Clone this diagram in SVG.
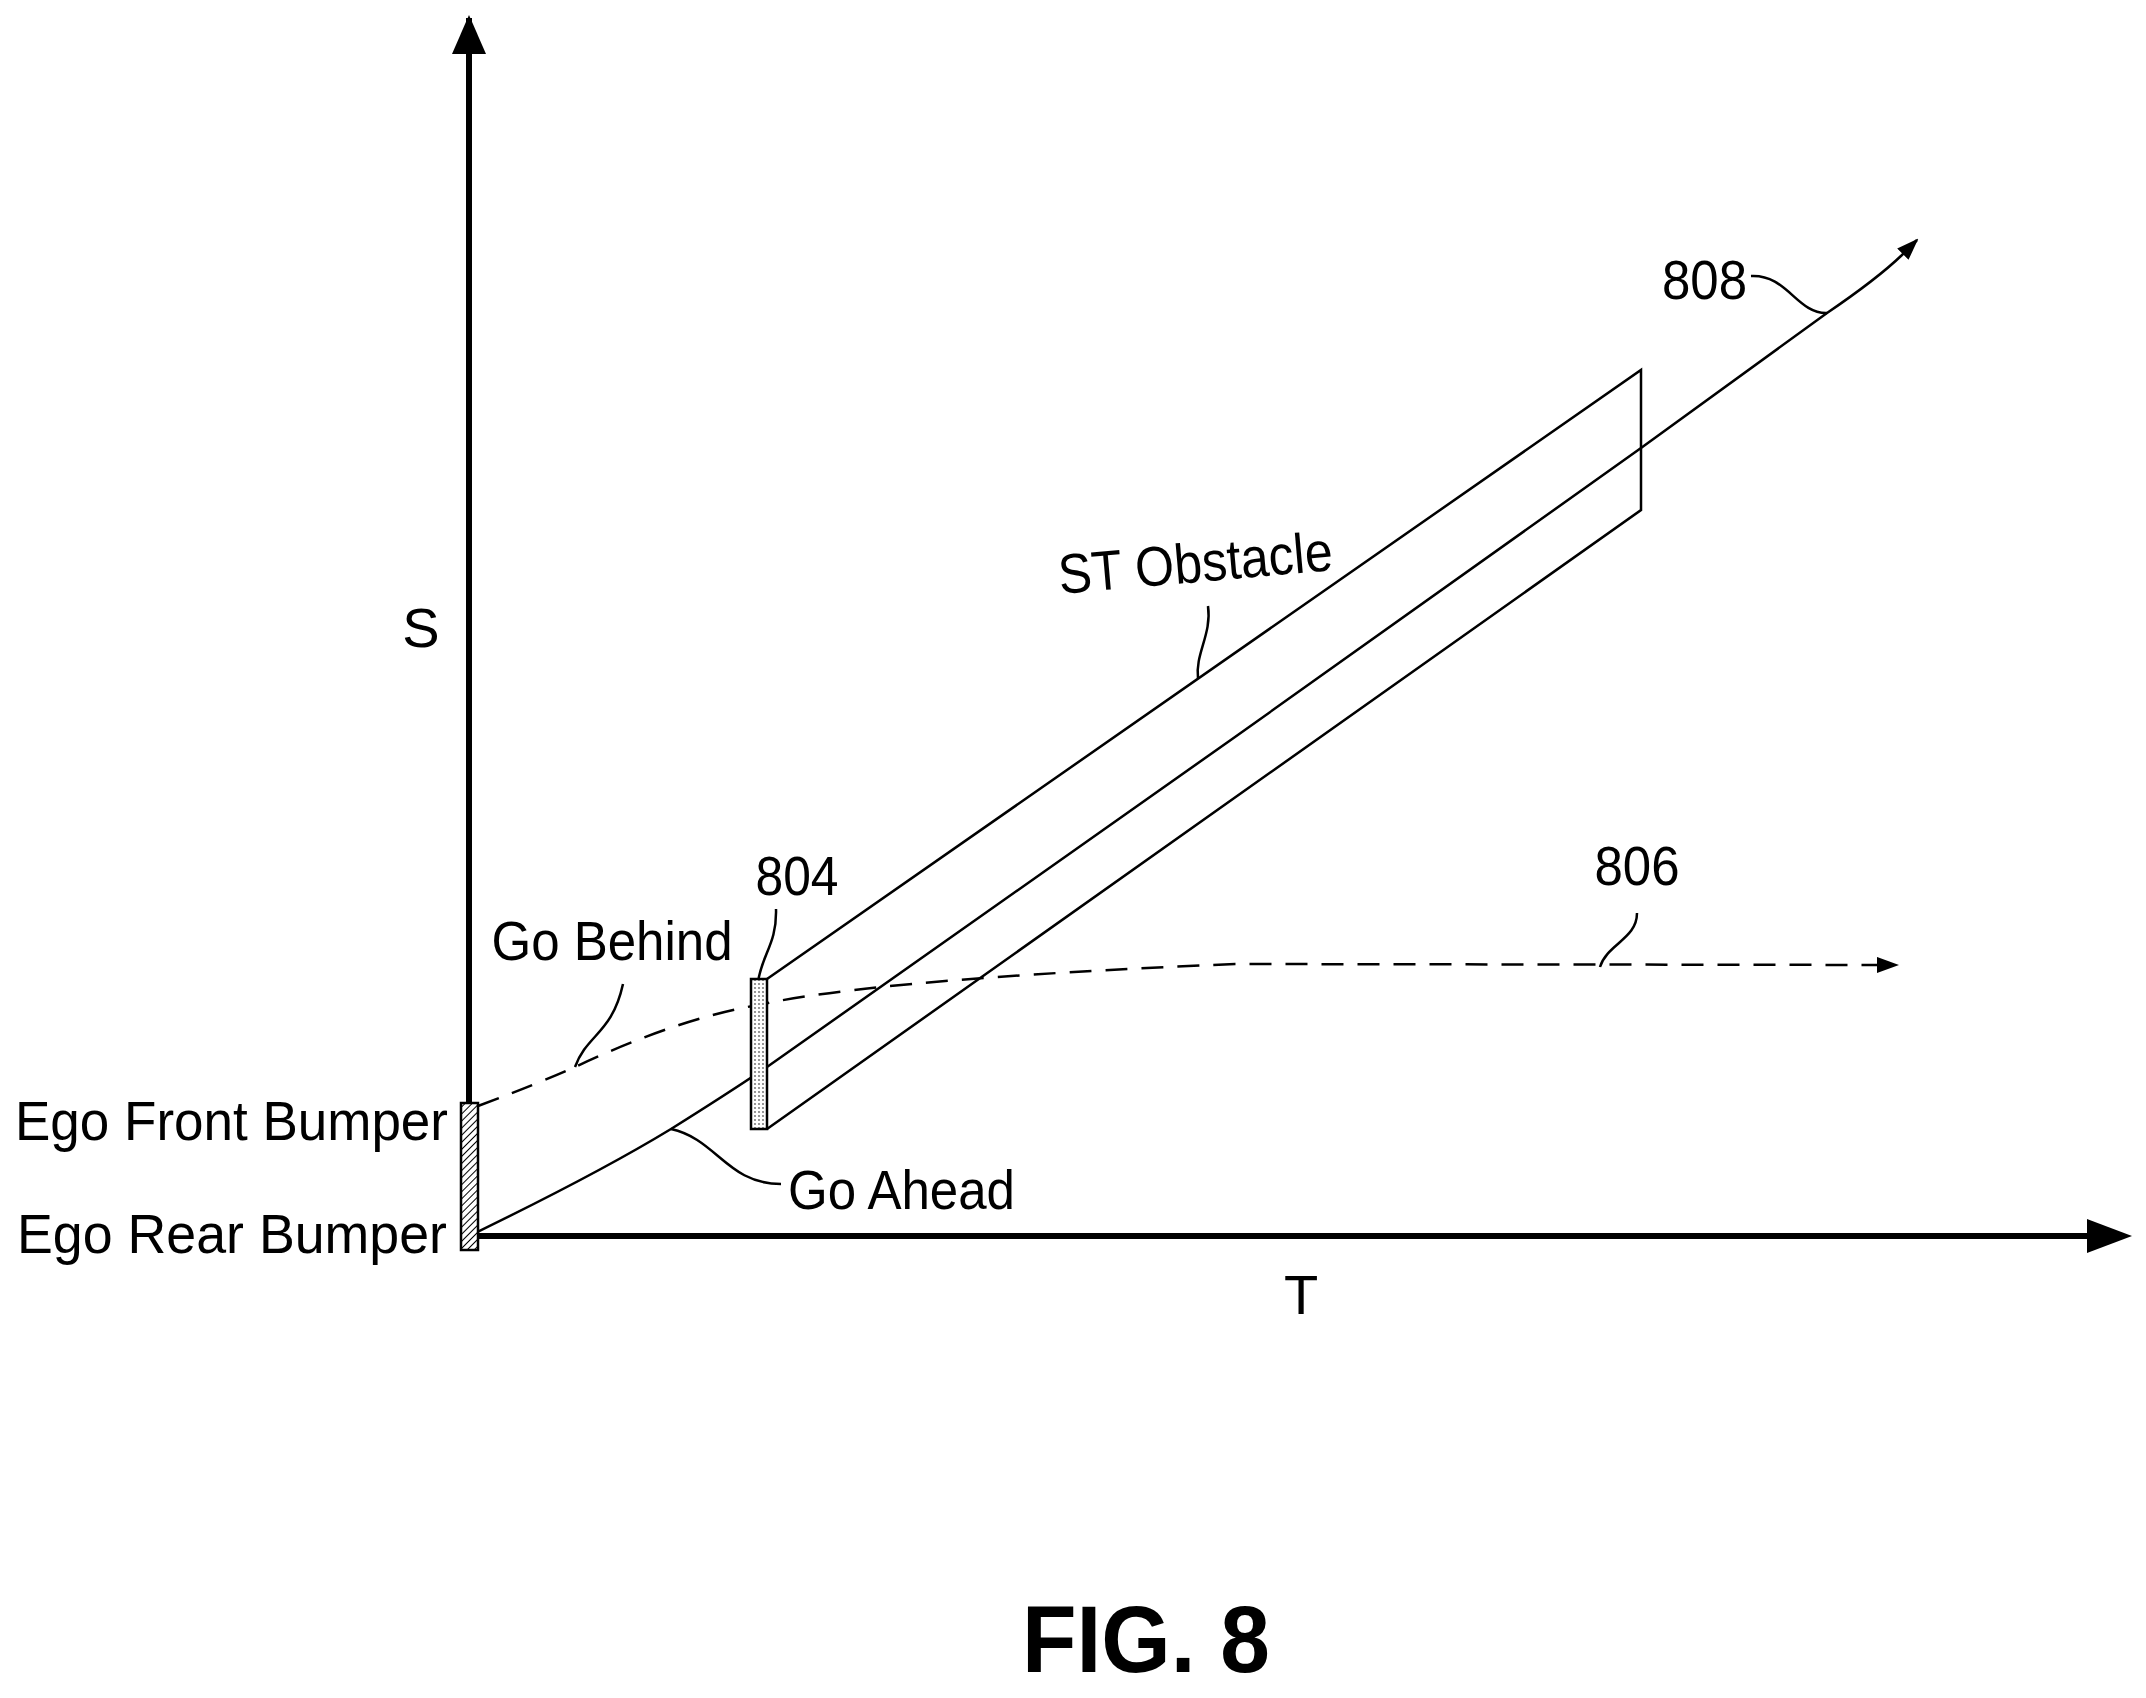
<svg xmlns="http://www.w3.org/2000/svg" width="2146" height="1698" viewBox="0 0 2146 1698">
<style>
text{font-family:"Liberation Sans",Arial,sans-serif;font-size:56px;fill:#000}
.ln{fill:none;stroke:#000;stroke-width:2.5}
.ax{fill:none;stroke:#000;stroke-width:6}
</style>
<defs>
<marker id="sm" markerWidth="22" markerHeight="16" refX="20" refY="8" orient="auto" markerUnits="userSpaceOnUse"><path d="M0,0 L22,8 L0,16 z"/></marker>
<pattern id="dots" width="4" height="4" patternUnits="userSpaceOnUse"><rect width="4" height="4" fill="#fff"/><circle cx="2" cy="2" r="0.9" fill="#666"/></pattern>
<pattern id="hatch" width="5" height="5" patternUnits="userSpaceOnUse" patternTransform="rotate(45)"><rect width="5" height="5" fill="#fff"/><line x1="0" y1="0" x2="0" y2="5" stroke="#000" stroke-width="2"/></pattern>
</defs>
<g transform="translate(-3,-6)">
<g id="connectors">
<line class="ax" x1="472" y1="1242" x2="472" y2="24"/>
<path d="M455,60 L472,21 L489,60 z"/>
<line class="ax" x1="472" y1="1242" x2="2100" y2="1242"/>
<path d="M2090,1225 L2135,1242 L2090,1259 z"/>
<path class="ln" d="M770,985 L1644,376 L1644,516 L770,1135"/>
<path class="ln" d="M472,1242 Q600,1180 674,1135 Q730,1100 770,1073 L1238,743 L1644,454 L1830,319 Q1880,285 1905,261 L1920,246" marker-end="url(#sm)"/>
<path class="ln" stroke-dasharray="22,14" d="M481,1112 Q540,1090 578,1073 Q680,1025 761,1011 Q880,985 1238,970 L1900,971" marker-end="url(#sm)"/>
<path class="ln" d="M626,990 C615,1040 590,1040 578,1073"/>
<path class="ln" d="M779,915 C780,950 765,960 761,988"/>
<path class="ln" d="M674,1135 C720,1145 730,1190 784,1190"/>
<path class="ln" d="M1211,612 C1215,640 1198,660 1201,684"/>
<path class="ln" d="M1754,282 C1790,280 1800,320 1830,319"/>
<path class="ln" d="M1640,919 C1640,945 1610,950 1603,973"/>
</g>
<g id="ego"><rect x="464" y="1109" width="17" height="147" fill="url(#hatch)" stroke="#000" stroke-width="2.5"/></g>
<g id="n804"><rect x="754" y="985" width="16" height="150" fill="url(#dots)" stroke="#000" stroke-width="2.5"/></g>
<g id="labels">
<text x="451" y="1146" text-anchor="end" textLength="433" lengthAdjust="spacingAndGlyphs">Ego Front Bumper</text>
<text x="450" y="1259" text-anchor="end" textLength="430" lengthAdjust="spacingAndGlyphs">Ego Rear Bumper</text>
<text x="424" y="653" text-anchor="middle">S</text>
<text x="1304" y="1320" text-anchor="middle">T</text>
<text x="615" y="966" text-anchor="middle" textLength="241" lengthAdjust="spacingAndGlyphs">Go Behind</text>
<text x="800" y="901" text-anchor="middle" textLength="83" lengthAdjust="spacingAndGlyphs">804</text>
<text x="791" y="1215" textLength="227" lengthAdjust="spacingAndGlyphs">Go Ahead</text>
<text x="1063" y="600" transform="rotate(-5 1063 600)" textLength="275" lengthAdjust="spacingAndGlyphs">ST Obstacle</text>
<text x="1665" y="305" textLength="85" lengthAdjust="spacingAndGlyphs">808</text>
<text x="1640" y="891" text-anchor="middle" textLength="85" lengthAdjust="spacingAndGlyphs">806</text>
</g>
</g>
<text x="1146" y="1672" text-anchor="middle" font-weight="bold" style="font-size:94px" textLength="248" lengthAdjust="spacingAndGlyphs">FIG. 8</text>
</svg>
